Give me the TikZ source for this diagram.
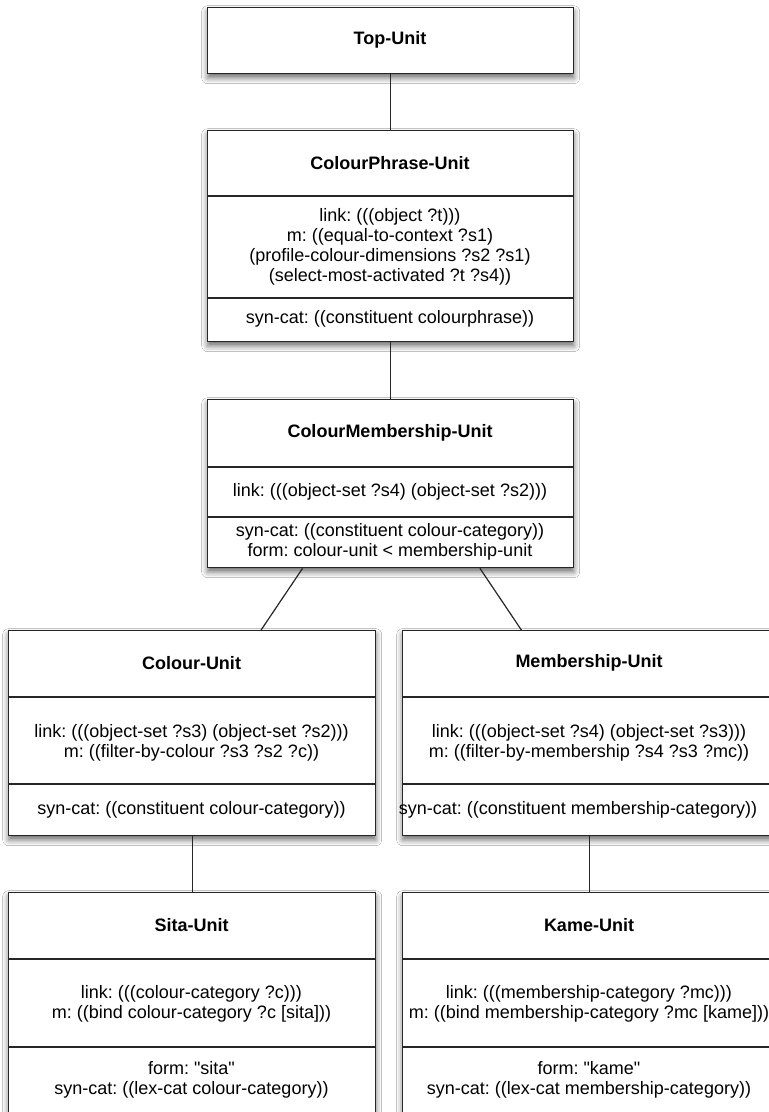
\documentclass[tikz,border=0pt]{standalone}
\usepackage{fontspec}
\setmainfont{Liberation Sans}
\usetikzlibrary{shadows.blur,calc}
\frenchspacing
\begin{document}
\begin{tikzpicture}[x=1pt,y=-1pt,
  unit/.style={draw=black!85, line width=1.4pt, fill=white, rectangle, inner sep=0pt, anchor=north west,
    blur shadow={shadow xshift=0pt, shadow yshift=-4pt, shadow blur radius=6pt, shadow opacity=60}},
  ttl/.style={font=\fontsize{18}{20}\selectfont\bfseries, inner sep=0pt},
  txt/.style={font=\fontsize{18}{20}\selectfont, align=center, inner sep=0pt},
  divl/.style={draw=black!85, line width=1.4pt},
  conn/.style={draw=black!85, line width=1.2pt}]
\useasboundingbox (0,0) rectangle (769,1112);
\fill[white] (0,0) rectangle (769,1112);

% boxes
\node[unit, minimum width=366pt, minimum height=66pt] (top) at (207,7) {};
\node[unit, minimum width=366pt, minimum height=211pt] (cp) at (207,130) {};
\node[unit, minimum width=366pt, minimum height=168pt] (cm) at (207,399) {};
\node[unit, minimum width=367pt, minimum height=205pt] (col) at (8,630) {};
\node[unit, minimum width=374pt, minimum height=205pt] (mem) at (402,630) {};
\node[unit, minimum width=367pt, minimum height=250pt] (sita) at (8,892) {};
\node[unit, minimum width=374pt, minimum height=250pt] (kame) at (402,892) {};

% dividers
\draw[divl] (cp.west |- 0,196) -- (cp.east |- 0,196);
\draw[divl] (cp.west |- 0,298) -- (cp.east |- 0,298);
\draw[divl] (cm.west |- 0,467) -- (cm.east |- 0,467);
\draw[divl] (cm.west |- 0,517) -- (cm.east |- 0,517);
\draw[divl] (col.west |- 0,697) -- (col.east |- 0,697);
\draw[divl] (col.west |- 0,784) -- (col.east |- 0,784);
\draw[divl] (mem.west |- 0,697) -- (mem.east |- 0,697);
\draw[divl] (mem.west |- 0,784) -- (mem.east |- 0,784);
\draw[divl] (sita.west |- 0,959) -- (sita.east |- 0,959);
\draw[divl] (sita.west |- 0,1047) -- (sita.east |- 0,1047);
\draw[divl] (kame.west |- 0,959) -- (kame.east |- 0,959);
\draw[divl] (kame.west |- 0,1047) -- (kame.east |- 0,1047);

% texts
\node[ttl] (t1) at (390,40) {Top-Unit};

\node[ttl] (t2) at (390,163) {ColourPhrase-Unit};
\node[txt] (t2a) at (390,247) {link: (((object ?t)))\\m: ((equal-to-context ?s1)\\(profile-colour-dimensions ?s2 ?s1)\\(select-most-activated ?t ?s4))};
\node[txt] (t2b) at (390,319) {syn-cat: ((constituent colourphrase))};

\node[ttl] (t3) at (390,433) {ColourMembership-Unit};
\node[txt] (t3a) at (390,492) {link: (((object-set ?s4) (object-set ?s2)))};
\node[txt] (t3b) at (390,542) {syn-cat: ((constituent colour-category))\\form: colour-unit {<} membership-unit};

\node[ttl] (t4) at (191.5,663) {Colour-Unit};
\node[txt] (t4a) at (191.5,743) {link: (((object-set ?s3) (object-set ?s2)))\\m: ((filter-by-colour ?s3 ?s2 ?c))};
\node[txt] (t4b) at (191.5,810) {syn-cat: ((constituent colour-category))};

\node[ttl] (t5) at (589,663) {Membership-Unit};
\node[txt] (t5a) at (589,743) {link: (((object-set ?s4) (object-set ?s3)))\\m: ((filter-by-membership ?s4 ?s3 ?mc))};
\node[txt] (t5b) at (578,810) {syn-cat: ((constituent membership-category))};

\node[ttl] (t6) at (191.5,925) {Sita-Unit};
\node[txt] (t6a) at (191.5,1004) {link: (((colour-category ?c)))\\m: ((bind colour-category ?c [sita]))};
\node[txt] (t6b) at (191.5,1080) {form: \textquotedbl sita\textquotedbl\\syn-cat: ((lex-cat colour-category))};

\node[ttl] (t7) at (589,925) {Kame-Unit};
\node[txt] (t7a) at (589,1004) {link: (((membership-category ?mc)))\\m: ((bind membership-category ?mc [kame]))};
\node[txt] (t7b) at (589,1080) {form: \textquotedbl kame\textquotedbl\\syn-cat: ((lex-cat membership-category))};

% connectors
\coordinate (cmL) at ($(cm.south west)!0.26!(cm.south east)$);
\coordinate (cmR) at ($(cm.south west)!0.743!(cm.south east)$);
\coordinate (colT) at ($(col.north west)!0.687!(col.north east)$);
\coordinate (memT) at ($(mem.north west)!0.318!(mem.north east)$);
\coordinate (memB) at ($(mem.south west)!0.5!(mem.south east)$);
\draw[conn] (top.south) -- (cp.north);
\draw[conn] (cp.south) -- (cm.north);
\draw[conn] (cmL) -- (colT);
\draw[conn] (cmR) -- (memT);
\draw[conn] (col.south) -- (sita.north);
\draw[conn] (memB) -- (kame.north -| memB);
\end{tikzpicture}
\end{document}
